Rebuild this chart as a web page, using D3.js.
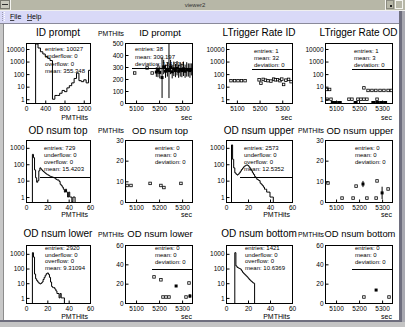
<!DOCTYPE html>
<html><head><meta charset="utf-8">
<script src="https://cdn.jsdelivr.net/npm/d3@7/dist/d3.min.js"></script>
<style>html,body{margin:0;padding:0;background:#fff;overflow:hidden}svg{display:block}</style>
</head><body>
<svg id="c" width="405" height="327"></svg>
<script>
// ================= DATA =================
const pmtTicksWide = [0, 400, 800, 1200];
const pmtTicksNarrow = [0, 20, 40, 60];
const secTicks = [5100, 5200, 5300];
const logTicksRow1 = [1, 10, 100, 1000, 10000];
const logTicksRow23 = [1, 10, 100, 1000];
const linTicksRow1 = [0, 100, 200, 300, 400, 500];
const linTicksRow2 = [0, 10, 20, 30];
const linTicksRow3 = [0, 20, 40, 60];

// histogram counts (bin index * bin width = bin start)
const idPromptCounts = [0,0,0,0,25000,12000,6000,4000,2500,1800,1200,1,2,2,3,5,4,8,12,20,45,120,30,25,35,20,200];
const odTopCounts = [0,0,0,0,0,0,400,250,45,15,8,10,40,60,50,42,36,32,28,25,23,21,19,18,17,16,15,14,12,11,11,9,6,5,4,3,2,3,2,1,2,1,1,0,1,1];
const odUpperCounts = [0,0,0,0,0,1500,200,60,30,25,22,25,30,38,48,58,70,80,88,90,80,65,50,40,30,24,18,15,12,11,10,7,6,5,4,3,3,2,2,2,1,1,1];
const odLowerCounts = [0,0,0,0,0,0,1200,600,42,20,15,12,10,9,10,12,18,25,35,45,50,40,25,12,6,5,5,4,3,2,2,1,2,1,1,1];
const odBottomCounts = [0,0,0,0,0,0,0,0,1200,150,120,110,100,90,70,55,45,38,32,27,22,18,15,13,11,10];

// time series points: [sec, value, error]
const idPromptTimePts = [[5094,250,0],[5148,292,0],[5170,250,0],[5188,258,40],[5195,270,55],[5203,255,50],
  [5213,212,170],[5220,300,60],[5228,265,55],[5236,280,60],[5243,270,229],[5250,300,60],[5257,260,55],
  [5264,285,60],[5271,270,55],[5278,290,60],[5285,265,55],[5292,280,60],[5299,270,55],[5306,285,60],
  [5313,265,55],[5320,280,60],[5327,275,55],[5334,270,60],[5340,280,50]];
const trigIdPts = [[5074,30,0],[5090,30,0],[5105,30,0],[5120,30,0],[5136,30,0],[5198,35,0],[5206,19,0],
  [5216,38,0],[5226,33,0],[5237,30,0],[5250,28,0],[5262,40,0],[5270,35,0],[5280,36,0],[5290,30,0],
  [5298,40,0],[5306,15,0],[5316,33,0],[5328,38,0],[5339,25,0]];
const trigOdPts = [[5058,6,0],[5072,6,0],[5221,8,0],[5239,5,0],[5256,5,0],[5273,5,0],[5291,5,0],[5308,5,0],
  [5326,5,0],[5340,5,0],[5061,1,0],[5078,1,0],[5156,1,0],[5169,1,0],[5195,1,0],[5208,1,0],[5221,1,0],
  [5234,1,0],[5278,1,0],[5086,0,0],[5099,0,0],[5116,0,0],[5185,0,0],[5262,0,0],[5279,0,0],[5296,0,0],[5313,0,0]];
const odTopTimePts = [[5061,8,0],[5078,8,0],[5161,9,0],[5208,8,0],[5221,7,0],[5295,9,0]];
const odUpperTimePts = [[5065,9.2,0],[5126,1.9,0],[5174,1.9,0],[5187,7.7,0],[5217,8.7,1.5],[5234,1.9,0],
  [5274,1.9,0],[5278,10.2,0],[5300,4.4,3],[5326,6.3,0]];
const odLowerTimePts = [[5178,27,0],[5208,24,0],[5217,6.2,0],[5230,6.2,0],[5243,6.2,0],[5274,17.6,1],
  [5317,6.2,0],[5330,20.7,0],[5334,7.2,2]];
const odBottomTimePts = [[5221,6.2,0],[5274,13.4,1],[5330,6.2,0]];

// statistics box texts
const statsIdPrompt = ["entries: 10027","underflow: 0","overflow: 0","mean: 355.348"];
const statsIdPromptTime = ["entries: 38","mean: 300.197","deviation: 124.914"];
const statsTrigId = ["entries: 1","mean: 32","deviation: 0"];
const statsTrigOd = ["entries: 1","mean: 3","deviation: 0"];
const statsOdTop = ["entries: 729","underflow: 0","overflow: 0","mean: 15.4203"];
const statsOdUpper = ["entries: 2573","underflow: 0","overflow: 0","mean: 12.5352"];
const statsOdLower = ["entries: 2920","underflow: 0","overflow: 0","mean: 9.31094"];
const statsOdBottom = ["entries: 1421","underflow: 0","overflow: 0","mean: 10.6369"];
const statsEmpty = ["entries: 0","mean: 0","deviation: 0"];

// ================= LAYOUT =================
const F = "'Liberation Sans', Arial, Helvetica, sans-serif";
const colX = [[26,90],[125,192],[226,292],[325,392]];
const rowY = [[43,103],[140,202],[245,303]];
const titleBase = [36, 134, 237];
const xTitleBase = [119.5, 216.5, 319];
const yTitleBase = [35.5, 132.5, 236.5];

const panels = [
 {row:0,col:0,title:"ID prompt",counts:idPromptCounts,binW:50,xDom:[0,1330],xTicks:pmtTicksWide,log:true,yDom:[0.5,30000],yTicks:logTicksRow1,stats:statsIdPrompt,sx:45,sy:49,sdy:7.3,xTitle:"PMTHits"},
 {row:0,col:1,title:"ID prompt",points:idPromptTimePts,xDom:[5052,5343],xTicks:secTicks,log:false,yDom:[0,500],yTicks:linTicksRow1,stats:statsIdPromptTime,sx:135,sy:49,sdy:7.5,lx:132,ly:68,xTitle:"sec",yTitle:"PMTHits"},
 {row:0,col:2,title:"LTrigger Rate ID",points:trigIdPts,xDom:[5052,5343],xTicks:secTicks,log:true,yDom:[0.5,30000],yTicks:logTicksRow1,stats:statsTrigId,sx:254,sy:51,sdy:7,lx:252,ly:69,xTitle:"sec"},
 {row:0,col:3,title:"LTrigger Rate OD",points:trigOdPts,xDom:[5052,5343],xTicks:secTicks,log:true,yDom:[0.5,30000],yTicks:logTicksRow1,stats:statsTrigOd,sx:354,sy:51,sdy:7,lx:352,ly:69,xTitle:"sec"},
 {row:1,col:0,title:"OD nsum top",counts:odTopCounts,binW:1,xDom:[0,60],xTicks:pmtTicksNarrow,log:true,yDom:[0.5,3000],yTicks:logTicksRow23,stats:statsOdTop,sx:44,sy:148,sdy:7,lx:40,ly:177,xTitle:"PMTHits"},
 {row:1,col:1,title:"OD nsum top",points:odTopTimePts,xDom:[5052,5343],xTicks:secTicks,log:false,yDom:[0,30],yTicks:linTicksRow2,stats:statsEmpty,sx:155,sy:148,sdy:7,xTitle:"sec",yTitle:"PMTHits"},
 {row:1,col:2,title:"OD nsum upper",counts:odUpperCounts,binW:1,xDom:[0,60],xTicks:pmtTicksNarrow,log:true,yDom:[0.5,3000],yTicks:logTicksRow23,stats:statsOdUpper,sx:244,sy:148,sdy:7,lx:240,ly:177,xTitle:"PMTHits"},
 {row:1,col:3,title:"OD nsum upper",points:odUpperTimePts,xDom:[5052,5343],xTicks:secTicks,log:false,yDom:[0,30],yTicks:linTicksRow2,stats:statsEmpty,sx:355,sy:148,sdy:7,xTitle:"sec",yTitle:"PMTHits"},
 {row:2,col:0,title:"OD nsum lower",counts:odLowerCounts,binW:1,xDom:[0,60],xTicks:pmtTicksNarrow,log:true,yDom:[0.45,4000],yTicks:logTicksRow23,stats:statsOdLower,sx:45,sy:248,sdy:6.5,xTitle:"PMTHits"},
 {row:2,col:1,title:"OD nsum lower",points:odLowerTimePts,xDom:[5052,5343],xTicks:secTicks,log:false,yDom:[0,60],yTicks:linTicksRow3,stats:statsEmpty,sx:155,sy:248,sdy:7,lx:152,ly:269,xTitle:"sec",yTitle:"PMTHits"},
 {row:2,col:2,title:"OD nsum bottom",counts:odBottomCounts,binW:1,xDom:[0,60],xTicks:pmtTicksNarrow,log:true,yDom:[0.45,4000],yTicks:logTicksRow23,stats:statsOdBottom,sx:245,sy:248,sdy:6.5,xTitle:"PMTHits"},
 {row:2,col:3,title:"OD nsum bottom",points:odBottomTimePts,xDom:[5052,5343],xTicks:secTicks,log:false,yDom:[0,60],yTicks:linTicksRow3,stats:statsEmpty,sx:355,sy:248,sdy:7,lx:352,ly:269,xTitle:"sec",yTitle:"PMTHits"}
];

// ================= DRAW =================
const svg = d3.select("#c");
const defs = svg.append("defs");

// --- window chrome ---
svg.append("rect").attr("width",405).attr("height",327).attr("fill","#c8c8c8");
svg.append("rect").attr("x",0).attr("y",0).attr("width",405).attr("height",10).attr("fill","#b7b7a7");
svg.append("rect").attr("x",0.5).attr("y",0.5).attr("width",9).attr("height",8).attr("fill","#c9c9bd").attr("stroke","#7a7a70");
svg.append("line").attr("x1",2).attr("x2",8).attr("y1",4.5).attr("y2",4.5).attr("stroke","#303030");
svg.append("line").attr("x1",10.5).attr("x2",10.5).attr("y1",0).attr("y2",10).attr("stroke","#f4f4f0");
svg.append("line").attr("x1",385.5).attr("x2",385.5).attr("y1",0).attr("y2",10).attr("stroke","#f4f4f0");
svg.append("rect").attr("x",386.5).attr("y",0.5).attr("width",7).attr("height",8).attr("fill","#b7b7a7").attr("stroke","#8a8a80");
svg.append("rect").attr("x",390).attr("y",5).attr("width",2).attr("height",2).attr("fill","#202020");
svg.append("rect").attr("x",395.5).attr("y",0.5).attr("width",7).attr("height",8).attr("fill","#b7b7a7").attr("stroke","#f4f4f0");
svg.append("text").attr("x",195).attr("y",7).attr("text-anchor","middle").attr("font-family",F).attr("font-size",6).attr("fill","#333").text("viewer2");
svg.append("rect").attr("x",0).attr("y",10).attr("width",405).attr("height",1).attr("fill","#f0f0f0");
svg.append("rect").attr("x",0).attr("y",11).attr("width",402).attr("height",12).attr("fill","#d9d9f7");
svg.append("line").attr("x1",2.5).attr("x2",2.5).attr("y1",12).attr("y2",22).attr("stroke","#9a9ab0").attr("stroke-dasharray","1,1");
svg.append("line").attr("x1",4.5).attr("x2",4.5).attr("y1",12).attr("y2",22).attr("stroke","#ffffff").attr("stroke-dasharray","1,1");
const menu = svg.append("g").attr("font-family",F).attr("font-size",7).attr("fill","#000");
const m1 = menu.append("text").attr("x",10).attr("y",19);
m1.append("tspan").attr("text-decoration","underline").text("F"); m1.append("tspan").text("ile");
const m2 = menu.append("text").attr("x",27).attr("y",19);
m2.append("tspan").attr("text-decoration","underline").text("H"); m2.append("tspan").text("elp");
svg.append("rect").attr("x",0).attr("y",23).attr("width",402).attr("height",1).attr("fill","#8a8a9a");
svg.append("rect").attr("x",4).attr("y",24).attr("width",395).attr("height",296).attr("fill","#ffffff");
svg.append("line").attr("x1",3.5).attr("x2",3.5).attr("y1",24).attr("y2",321).attr("stroke","#8c8c8c");
svg.append("rect").attr("x",399).attr("y",11).attr("width",3).attr("height",311).attr("fill","#6e6e7e");
svg.append("rect").attr("x",402).attr("y",11).attr("width",3).attr("height",316).attr("fill","#a8a8b0");
svg.append("rect").attr("x",0).attr("y",320).attr("width",402).attr("height",2).attr("fill","#6e6e7e");
svg.append("rect").attr("x",0).attr("y",322).attr("width",405).attr("height",5).attr("fill","#c4c4c4");

// --- panels ---
panels.forEach((p, i) => {
  const [x0, x1] = colX[p.col], [y0, y1] = rowY[p.row];
  const g = svg.append("g");
  const x = d3.scaleLinear().domain(p.xDom).range([x0, x1]);
  const y = (p.log ? d3.scaleLog() : d3.scaleLinear()).domain(p.yDom).range([y1, y0]).clamp(true);
  const yv = v => (v > 0 || !p.log) ? y(Math.max(v, p.log ? p.yDom[0] : v)) : y1;
  const cid = "clip" + i;
  defs.append("clipPath").attr("id", cid).append("rect")
    .attr("x", x0).attr("y", y0).attr("width", x1 - x0 + 1).attr("height", y1 - y0 + 1);
  const plot = g.append("g").attr("clip-path", `url(#${cid})`);

  if (p.counts) {
    const first = p.counts.findIndex(c => c > 0);
    let last = p.counts.length - 1; while (last > 0 && !(p.counts[last] > 0)) last--;
    const pts = [[x(first * p.binW), y1]];
    for (let k = first; k <= last; k++) {
      const c = p.counts[k];
      pts.push([x(k * p.binW), yv(c)], [x((k + 1) * p.binW), yv(c)]);
    }
    pts.push([x((last + 1) * p.binW), y1]);
    plot.append("path").attr("d", d3.line()(pts)).attr("fill", "none")
      .attr("stroke", "#000").attr("stroke-width", 1);
  }
  if (p.points) {
    p.points.forEach(([t, v, e]) => {
      const cx = x(t);
      if (e > 0) {
        plot.append("line").attr("x1", cx).attr("x2", cx)
          .attr("y1", yv(v - e)).attr("y2", yv(v + e)).attr("stroke", "#000").attr("stroke-width", 1);
      }
      if (p.log && v <= 0) {
        plot.append("rect").attr("x", cx - 2).attr("y", y1 - 2).attr("width", 4).attr("height", 2).attr("fill", "#000");
      } else if (e > 0) {
        plot.append("rect").attr("x", cx - 1.5).attr("y", yv(v) - 1.5).attr("width", 3).attr("height", 3).attr("fill", "#000");
      } else {
        plot.append("rect").attr("x", cx - 1.25).attr("y", yv(v) - 1.25).attr("width", 2.5).attr("height", 2.5)
          .attr("fill", "#fff").attr("stroke", "#000").attr("stroke-width", 0.8);
      }
    });
  }

  // frame
  g.append("rect").attr("x", x0 + 0.5).attr("y", y0 + 0.5).attr("width", x1 - x0).attr("height", y1 - y0)
    .attr("fill", "none").attr("stroke", "#000").attr("stroke-width", 1);

  // axes
  const fmt = d3.format("d");
  const ax = g.append("g").attr("transform", `translate(0,${y1 + 0.5})`)
    .call(d3.axisBottom(x).tickValues(p.xTicks).tickSize(-3).tickSizeOuter(0).tickPadding(3).tickFormat(fmt));
  const ay = g.append("g").attr("transform", `translate(${x0 + 0.5},0)`)
    .call(d3.axisLeft(y).tickValues(p.yTicks).tickSize(-3).tickSizeOuter(0).tickPadding(2).tickFormat(fmt));
  [ax, ay].forEach(a => {
    a.select(".domain").remove();
    a.attr("font-family", F).attr("font-size", 6.5);
    a.selectAll("line").attr("stroke", "#000");
    a.selectAll("text").attr("fill", "#000");
  });

  // stats box
  const st = g.append("g").attr("font-family", F).attr("font-size", 6).attr("fill", "#000");
  p.stats.forEach((s, k) => st.append("text").attr("x", p.sx).attr("y", p.sy + k * p.sdy + 2).text(s));
  if (p.ly) g.append("line").attr("x1", p.lx).attr("x2", x1 + 0.5).attr("y1", p.ly + 0.5).attr("y2", p.ly + 0.5)
    .attr("stroke", "#000").attr("stroke-width", 1);

  // titles
  const tw = p.title.length > 13 ? 9.4 : 10;
  g.append("text").attr("x", (x0 + x1) / 2 + (p.yTitle ? 1.5 : 0)).attr("y", titleBase[p.row]).attr("text-anchor", "middle")
    .attr("font-family", F).attr("font-size", p.yTitle ? Math.min(tw, 9.5) : 10).attr("fill", "#000").text(p.title);
  g.append("text").attr("x", p.xTitle === "sec" ? x1 : x1 - 2).attr("y", xTitleBase[p.row]).attr("text-anchor", "end")
    .attr("font-family", F).attr("font-size", 7).attr("fill", "#000").text(p.xTitle);
  if (p.yTitle) g.append("text").attr("x", x0 - 1).attr("y", yTitleBase[p.row]).attr("text-anchor", "end")
    .attr("font-family", F).attr("font-size", 6.8).attr("fill", "#000").text(p.yTitle);
});
</script>
</body></html>
